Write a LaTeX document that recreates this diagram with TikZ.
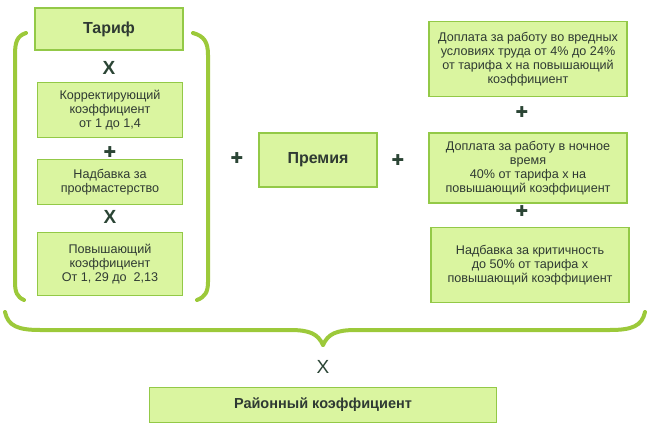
\documentclass[tikz,border=0pt]{standalone}
\usepackage{fontspec}
\setmainfont{Liberation Sans}
\newfontfamily\signfont{DejaVu Sans}
\usetikzlibrary{positioning}
\definecolor{boxfill}{HTML}{DAF5A0}
\definecolor{boxline}{HTML}{93C947}
\definecolor{bracecol}{HTML}{9CC93A}
\definecolor{signcol}{HTML}{2B4535}
\definecolor{txtcol}{HTML}{2F3A33}
\tikzset{
  box/.style={draw=boxline, fill=boxfill, line width=1.5pt, align=center,
    text=txtcol, inner sep=0pt, font=\fontsize{12.6}{14}\selectfont},
  bigbox/.style={box, font=\fontsize{16}{18}\selectfont\bfseries},
  plussign/.style={text=signcol, font=\signfont\fontsize{15}{15}\selectfont},
  timessign/.style={text=signcol, font=\fontsize{19}{19}\selectfont\bfseries},
  bracket/.style={draw=bracecol, line width=4pt, line cap=round}
}
\begin{document}
\begin{tikzpicture}[x=1pt, y=-1pt]
\useasboundingbox (0,0) rectangle (650,430);

% Left column
\node[bigbox, minimum width=148, minimum height=42] (tarif) at (109,29) {Тариф};
\node[timessign] (x1) at (109,68) {X};
\node[box, minimum width=145, minimum height=55] (korr) at (110,110)
  {Корректирующий\\коэффициент\\от 1 до 1,4};
\node[plussign] (p1) at (110,152) {✚};
\node[box, minimum width=145, minimum height=45] (nadb) at (110,182)
  {Надбавка за\\профмастерство};
\node[timessign] (x2) at (110,217) {X};
\node[box, minimum width=145, minimum height=63] (povysh) at (110,264)
  {Повышающий\\коэффициент\\От 1, 29 до\ \ 2,13};

% Brackets round the left column
\draw[bracket] (26,33) .. controls (17,36) and (15,42) .. (15,55)
  -- (15,282) .. controls (15,292) and (17,297) .. (24,300);
\draw[bracket] (193,33) .. controls (204,36) and (208,42) .. (208,55)
  -- (208,282) .. controls (208,292) and (205,297) .. (197,300);

% Middle
\node[plussign] (p2) at (237,158) {✚};
\node[bigbox, minimum width=118, minimum height=54] (premia) at (318,160) {Премия};
\node[plussign] (p3) at (398,160) {✚};

% Right column
\node[box, minimum width=198, minimum height=75] (vred) at (528,59)
  {Доплата за работу во вредных\\условиях труда от 4\% до 24\%\\от тарифа х на повышающий\\коэффициент};
\node[plussign] (p4) at (522,112) {✚};
\node[box, minimum width=198, minimum height=70] (noch) at (528,168)
  {Доплата за работу в ночное\\время\\40\% от тарифа х на\\повышающий коэффициент};
\node[plussign] (p5) at (522,211) {✚};
\node[box, minimum width=198, minimum height=75] (krit) at (530,265)
  {Надбавка за критичность\\до 50\% от тарифа х\\повышающий коэффициент};

% Bottom brace
\draw[bracket] (5,312) .. controls (8,326) and (18,330) .. (40,330)
  -- (290,330) .. controls (310,330) and (318,334) .. (323,345);
\draw[bracket] (645,312) .. controls (642,326) and (632,330) .. (610,330)
  -- (356,330) .. controls (336,330) and (328,334) .. (323,345);

\node[timessign, font=\fontsize{19}{19}\selectfont] (x3) at (323,367) {X};
\node[box, minimum width=347, minimum height=35, font=\fontsize{14.5}{16}\selectfont\bfseries] (rayon) at (323,405)
  {Районный коэффициент};
\end{tikzpicture}
\end{document}
